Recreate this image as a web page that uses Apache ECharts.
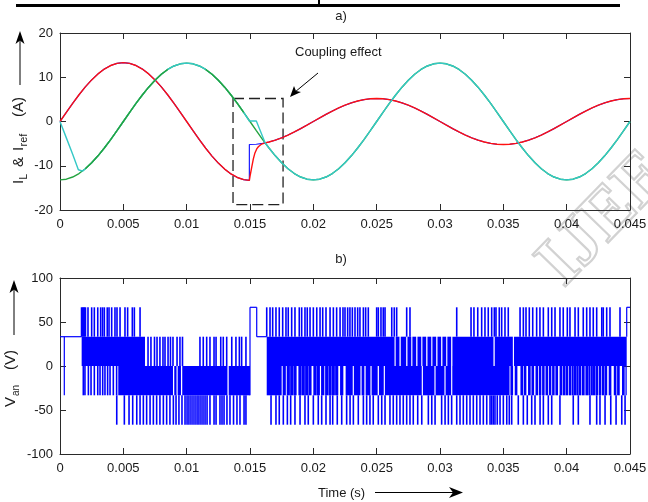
<!DOCTYPE html>
<html>
<head>
<meta charset="utf-8">
<script src="https://cdn.jsdelivr.net/npm/echarts@6/dist/echarts.min.js"></script>
<style>
  html, body { margin: 0; padding: 0; background: #fff; }
  #c { width: 648px; height: 502px; }
</style>
</head>
<body>
<div id="c"></div>
<script>
// ---------- axes ----------
const timeTicks = [0, 0.005, 0.01, 0.015, 0.02, 0.025, 0.03, 0.035, 0.04, 0.045];
const currentTicks = [-20, -10, 0, 10, 20];
const voltageTicks = [-100, -50, 0, 50, 100];

// ---------- a) phase currents, [time (s), current (A)] ----------
// phase a reference current (blue)
const iaRef = [
  [0,0],[0.0005,2.08],[0.001,4.11],[0.0015,6.04],[0.002,7.82],[0.0025,9.40],[0.003,10.76],[0.0035,11.85],
  [0.004,12.65],[0.0045,13.14],[0.005,13.30],[0.0055,13.14],[0.006,12.65],[0.0065,11.85],[0.007,10.76],
  [0.0075,9.40],[0.008,7.82],[0.0085,6.04],[0.009,4.11],[0.0095,2.08],[0.01,0],[0.0105,-2.08],[0.011,-4.11],
  [0.0115,-6.04],[0.012,-7.82],[0.0125,-9.40],[0.013,-10.76],[0.0135,-11.85],[0.014,-12.65],[0.0145,-13.14],
  [0.01495,-13.30],[0.01495,-5.20],[0.0155,-5.14],[0.016,-4.95],[0.0165,-4.63],[0.017,-4.21],[0.0175,-3.68],
  [0.018,-3.06],[0.0185,-2.36],[0.019,-1.61],[0.0195,-0.81],[0.02,0],[0.0205,0.81],[0.021,1.61],[0.0215,2.36],
  [0.022,3.06],[0.0225,3.68],[0.023,4.21],[0.0235,4.63],[0.024,4.95],[0.0245,5.14],[0.025,5.20],[0.0255,5.14],
  [0.026,4.95],[0.0265,4.63],[0.027,4.21],[0.0275,3.68],[0.028,3.06],[0.0285,2.36],[0.029,1.61],[0.0295,0.81],
  [0.03,0],[0.0305,-0.81],[0.031,-1.61],[0.0315,-2.36],[0.032,-3.06],[0.0325,-3.68],[0.033,-4.21],[0.0335,-4.63],
  [0.034,-4.95],[0.0345,-5.14],[0.035,-5.20],[0.0355,-5.14],[0.036,-4.95],[0.0365,-4.63],[0.037,-4.21],
  [0.0375,-3.68],[0.038,-3.06],[0.0385,-2.36],[0.039,-1.61],[0.0395,-0.81],[0.04,0],[0.0405,0.81],[0.041,1.61],
  [0.0415,2.36],[0.042,3.06],[0.0425,3.68],[0.043,4.21],[0.0435,4.63],[0.044,4.95],[0.0445,5.14],[0.045,5.20]
];
// phase a load current (red)
const iaMeas = [
  [0,0],[0.0005,2.08],[0.001,4.11],[0.0015,6.04],[0.002,7.82],[0.0025,9.40],[0.003,10.76],[0.0035,11.85],
  [0.004,12.65],[0.0045,13.14],[0.005,13.30],[0.0055,13.14],[0.006,12.65],[0.0065,11.85],[0.007,10.76],
  [0.0075,9.40],[0.008,7.82],[0.0085,6.04],[0.009,4.11],[0.0095,2.08],[0.01,0],[0.0105,-2.08],[0.011,-4.11],
  [0.0115,-6.04],[0.012,-7.82],[0.0125,-9.40],[0.013,-10.76],[0.0135,-11.85],[0.014,-12.65],[0.0145,-13.14],
  [0.01495,-13.30],[0.0150,-12.4],[0.01513,-10.4],[0.01526,-8.5],[0.01539,-7.1],[0.01553,-6.2],[0.01566,-5.7],
  [0.01592,-5.1],[0.0162,-4.84],[0.0165,-4.63],[0.017,-4.21],[0.0175,-3.68],
  [0.018,-3.06],[0.0185,-2.36],[0.019,-1.61],[0.0195,-0.81],[0.02,0],[0.0205,0.81],[0.021,1.61],[0.0215,2.36],
  [0.022,3.06],[0.0225,3.68],[0.023,4.21],[0.0235,4.63],[0.024,4.95],[0.0245,5.14],[0.025,5.20],[0.0255,5.14],
  [0.026,4.95],[0.0265,4.63],[0.027,4.21],[0.0275,3.68],[0.028,3.06],[0.0285,2.36],[0.029,1.61],[0.0295,0.81],
  [0.03,0],[0.0305,-0.81],[0.031,-1.61],[0.0315,-2.36],[0.032,-3.06],[0.0325,-3.68],[0.033,-4.21],[0.0335,-4.63],
  [0.034,-4.95],[0.0345,-5.14],[0.035,-5.20],[0.0355,-5.14],[0.036,-4.95],[0.0365,-4.63],[0.037,-4.21],
  [0.0375,-3.68],[0.038,-3.06],[0.0385,-2.36],[0.039,-1.61],[0.0395,-0.81],[0.04,0],[0.0405,0.81],[0.041,1.61],
  [0.0415,2.36],[0.042,3.06],[0.0425,3.68],[0.043,4.21],[0.0435,4.63],[0.044,4.95],[0.0445,5.14],[0.045,5.20]
];
// phase b reference current (green)
const ibRef = [
  [0,-13.20],[0.0005,-13.04],[0.001,-12.55],[0.0015,-11.76],[0.002,-10.68],[0.0025,-9.33],[0.003,-7.76],
  [0.0035,-5.99],[0.004,-4.08],[0.0045,-2.06],[0.005,0],[0.0055,2.06],[0.006,4.08],[0.0065,5.99],[0.007,7.76],
  [0.0075,9.33],[0.008,10.68],[0.0085,11.76],[0.009,12.55],[0.0095,13.04],[0.01,13.20],[0.0105,13.04],
  [0.011,12.55],[0.0115,11.76],[0.012,10.68],[0.0125,9.33],[0.013,7.76],[0.0135,5.99],[0.014,4.08],
  [0.0145,2.06],[0.015,0],[0.0155,-2.06],[0.016,-4.08],[0.0165,-5.99],[0.017,-7.76],[0.0175,-9.33],
  [0.018,-10.68],[0.0185,-11.76],[0.019,-12.55],[0.0195,-13.04],[0.02,-13.20],[0.0205,-13.04],[0.021,-12.55],
  [0.0215,-11.76],[0.022,-10.68],[0.0225,-9.33],[0.023,-7.76],[0.0235,-5.99],[0.024,-4.08],[0.0245,-2.06],
  [0.025,0],[0.0255,2.06],[0.026,4.08],[0.0265,5.99],[0.027,7.76],[0.0275,9.33],[0.028,10.68],[0.0285,11.76],
  [0.029,12.55],[0.0295,13.04],[0.03,13.20],[0.0305,13.04],[0.031,12.55],[0.0315,11.76],[0.032,10.68],
  [0.0325,9.33],[0.033,7.76],[0.0335,5.99],[0.034,4.08],[0.0345,2.06],[0.035,0],[0.0355,-2.06],[0.036,-4.08],
  [0.0365,-5.99],[0.037,-7.76],[0.0375,-9.33],[0.038,-10.68],[0.0385,-11.76],[0.039,-12.55],[0.0395,-13.04],
  [0.04,-13.20],[0.0405,-13.04],[0.041,-12.55],[0.0415,-11.76],[0.042,-10.68],[0.0425,-9.33],[0.043,-7.76],
  [0.0435,-5.99],[0.044,-4.08],[0.0445,-2.06],[0.045,0]
];
// phase b load current (cyan)
const ibMeas = [
  [0,0],[0.0005,-3.7],[0.001,-7.4],[0.00145,-10.9],[0.0018,-11.2],[0.002,-10.68],[0.0025,-9.33],[0.003,-7.76],
  [0.0035,-5.99],[0.004,-4.08],[0.0045,-2.06],[0.005,0],[0.0055,2.06],[0.006,4.08],[0.0065,5.99],[0.007,7.76],
  [0.0075,9.33],[0.008,10.68],[0.0085,11.76],[0.009,12.55],[0.0095,13.04],[0.01,13.20],[0.0105,13.04],
  [0.011,12.55],[0.0115,11.76],[0.012,10.68],[0.0125,9.33],[0.013,7.76],[0.0135,5.99],[0.014,4.08],
  [0.0145,2.06],[0.01495,0.1],[0.0155,0.1],[0.0162,-4.86],[0.0165,-5.99],[0.017,-7.76],[0.0175,-9.33],
  [0.018,-10.68],[0.0185,-11.76],[0.019,-12.55],[0.0195,-13.04],[0.02,-13.20],[0.0205,-13.04],[0.021,-12.55],
  [0.0215,-11.76],[0.022,-10.68],[0.0225,-9.33],[0.023,-7.76],[0.0235,-5.99],[0.024,-4.08],[0.0245,-2.06],
  [0.025,0],[0.0255,2.06],[0.026,4.08],[0.0265,5.99],[0.027,7.76],[0.0275,9.33],[0.028,10.68],[0.0285,11.76],
  [0.029,12.55],[0.0295,13.04],[0.03,13.20],[0.0305,13.04],[0.031,12.55],[0.0315,11.76],[0.032,10.68],
  [0.0325,9.33],[0.033,7.76],[0.0335,5.99],[0.034,4.08],[0.0345,2.06],[0.035,0],[0.0355,-2.06],[0.036,-4.08],
  [0.0365,-5.99],[0.037,-7.76],[0.0375,-9.33],[0.038,-10.68],[0.0385,-11.76],[0.039,-12.55],[0.0395,-13.04],
  [0.04,-13.20],[0.0405,-13.04],[0.041,-12.55],[0.0415,-11.76],[0.042,-10.68],[0.0425,-9.33],[0.043,-7.76],
  [0.0435,-5.99],[0.044,-4.08],[0.0445,-2.06],[0.045,0]
];
// region marked "Coupling effect": [t0, t1, iLow, iHigh]
const couplingBox = [0.01366, 0.01761, -18.8, 5.2];

// ---------- b) phase voltage V_an ----------
const vanLevels = [-66.7, -33.3, 0, 33.3, 66.7];
// dense switching between 0 and +33.3 V: [t0, t1]
const upperBand = [
  [0.00171,0.00671],
  [0.01632,0.02641],[0.02650,0.02680],[0.02690,0.02733],[0.02743,0.02773],[0.02782,0.02812],[0.02822,0.02852],
  [0.02861,0.02891],[0.02901,0.02931],[0.02940,0.02970],[0.02980,0.03009],[0.03019,0.03049],[0.03058,0.03088],
  [0.03098,0.03422],[0.03432,0.03575],[0.03584,0.04474]
];
// dense switching between -33.3 V and 0: [t0, t1]
const lowerBand = [
  [0.00460,0.00892],[0.00902,0.00920],[0.00929,0.00955],[0.00965,0.01322],[0.01332,0.01500],
  [0.01632,0.01750],[0.01758,0.01783],[0.01790,0.01815],[0.01817,0.01842],[0.01843,0.01868],[0.01882,0.01907],
  [0.01908,0.01933],[0.01935,0.01960],[0.01961,0.01986],[0.02000,0.02026],[0.02027,0.02052],[0.02061,0.02087],
  [0.02093,0.02118],[0.02119,0.02144],[0.02145,0.02170],[0.02172,0.02197],[0.02211,0.02237],[0.02255,0.02311],
  [0.02320,0.02372],[0.02381,0.02403],[0.02413,0.02451],[0.02460,0.02508],[0.02518,0.02556],[0.02565,0.02856],
  [0.02865,0.02956],[0.02965,0.03035],[0.03044,0.03088],[0.03097,0.03549],
  [0.03556,0.03577],[0.03590,0.03611],[0.03635,0.03656],[0.03661,0.03682],[0.03695,0.03716],[0.03722,0.03743],
  [0.03754,0.03774],[0.03780,0.03800],[0.03806,0.03826],[0.03833,0.03853],[0.03859,0.03879],[0.03885,0.03905],
  [0.03911,0.03932],[0.03944,0.03965],[0.03969,0.03990],[0.03992,0.04011],[0.04016,0.04037],[0.04040,0.04056],
  [0.04058,0.04075],[0.04076,0.04094],[0.04095,0.04116],[0.04121,0.04142],[0.04148,0.04169],[0.04171,0.04188],
  [0.04190,0.04207],[0.04208,0.04226],[0.04228,0.04248],[0.04253,0.04274],[0.04279,0.04299],[0.04301,0.04320],
  [0.04332,0.04353],[0.04372,0.04393],[0.04398,0.04419],[0.04437,0.04458],[0.04464,0.04474]
];
// pulses from +33.3 V up to +66.7 V
const pulsesTo66 = [
  0.00170,0.00178,0.00186,0.00193,0.00201,0.00221,0.00250,0.00271,0.00298,0.00321,0.00336,0.00350,0.00373,
  0.00387,0.00408,0.00434,0.00450,0.00474,0.00513,0.00534,0.00571,0.00587,0.00632,
  0.01632,0.01658,0.01679,0.01705,0.01731,0.01758,0.01784,0.01802,0.01829,0.01855,0.01889,0.01908,0.01934,
  0.01952,0.01974,0.02000,0.02027,0.02053,0.02074,0.02100,0.02132,0.02158,0.02184,0.02211,0.02234,0.02250,
  0.02271,0.02289,0.02308,0.02329,0.02350,0.02368,0.02395,0.02413,0.02434,0.02500,0.02513,0.02534,0.02552,
  0.02566,0.02619,0.02639,0.02658,0.02737,0.02763,0.03132,0.03245,0.03268,0.03298,0.03329,0.03355,0.03381,
  0.03408,0.03429,0.03442,0.03468,0.03487,0.03513,0.03539,0.03632,0.03658,0.03679,0.03705,0.03732,0.03763,
  0.03789,0.03816,0.03855,0.03882,0.03908,0.03947,0.03973,0.04005,0.04026,0.04066,0.04092,0.04131,0.04158,
  0.04184,0.04210,0.04237,0.04277,0.04289,0.04316,0.04342,0.04421
];
// pulses from -33.3 V down to -66.7 V
const pulsesToMinus66 = [
  0.00448,0.00508,0.00545,0.00574,0.00606,0.00632,0.00658,0.00684,0.00711,0.00737,0.00763,0.00789,0.00816,
  0.00842,0.00868,0.00895,0.00916,0.00939,0.00963,0.00987,0.01003,0.01018,0.01034,0.01050,0.01066,0.01082,
  0.01097,0.01113,0.01129,0.01145,0.01161,0.01184,0.01216,0.01232,0.01263,0.01279,0.01295,0.01318,0.01342,
  0.01370,0.01397,0.01421,0.01453,0.01468,
  0.01666,0.01705,0.01731,0.01763,0.01795,0.01821,0.01855,0.01895,0.01934,0.01960,0.02000,0.02039,0.02066,
  0.02100,0.02132,0.02153,0.02189,0.02224,0.02263,0.02290,0.02316,0.02355,0.02395,0.02421,0.02447,0.02473,
  0.02513,0.02540,0.02566,0.02605,0.02631,0.02658,0.02684,0.02710,0.02737,0.02763,0.02789,0.02824,0.02856,
  0.02908,0.02935,0.02961,0.03013,0.03040,0.03066,0.03092,0.03132,0.03158,0.03184,0.03211,0.03237,0.03263,
  0.03290,0.03316,0.03342,0.03369,0.03395,0.03408,0.03421,0.03434,0.03452,0.03474,0.03500,0.03527,0.03547,
  0.03566,0.03618,0.03658,0.03689,0.03724,0.03750,0.03790,0.03816,0.03855,0.03882,0.03947,0.04052,0.04092,
  0.04184,0.04237,0.04263,0.04303,0.04348,0.04390,0.04435,0.04461
];
// pulses from 0 down to -33.3 V
const pulsesToMinus33 = [
  0.00184,0.00197,0.00224,0.00245,0.00271,0.00298,0.00316,0.00337,0.00355,0.00376,0.00395,0.00421,0.00447
];
// pulses from 0 up to +33.3 V
const pulsesTo33 = [
  0.00695,0.00718,0.00746,0.00766,0.00789,0.00813,0.00829,0.00853,0.00872,0.00892,0.00924,0.00947,0.00967,
  0.01105,0.01131,0.01158,0.01184,0.01216,0.01232,0.01269,0.01289,0.01316,0.01356,0.01389,0.01416,0.01434,
  0.01468
];
// steady parts of the trace: [t0, v0, t1, v1]
const vanSteps = [
  [0, 33.3, 0.00171, 33.3], [0.00034, 33.3, 0.00034, -33.3],
  [0.0150, -33.3, 0.0150, 66.7], [0.0150, 66.7, 0.01553, 66.7], [0.01553, 66.7, 0.01553, 33.3],
  [0.01553, 33.3, 0.01632, 33.3],
  [0.04474, 33.3, 0.04474, 66.7], [0.04474, 66.7, 0.045, 66.7]
];

// ---------- build ----------
const [L2n, L1n, L0, L1p, L2p] = vanLevels;
const bandData = upperBand.map(s => [s[0], s[1], L0, L1p])
  .concat(lowerBand.map(s => [s[0], s[1], L1n, L0]));
const stepData = vanSteps;
const pulseData = []
  .concat(pulsesTo66.map(t => [t, L1p, t, L2p]))
  .concat(pulsesToMinus66.map(t => [t, L1n, t, L2n]))
  .concat(pulsesToMinus33.map(t => [t, L0, t, L1n]))
  .concat(pulsesTo33.map(t => [t, L0, t, L1p]));

const FONT = 'Liberation Sans, Arial, sans-serif';
const AX = '#2a2a2a';
const VBLUE = '#0000ff';
const fmtTime = v => String(Math.round(v * 1000) / 1000);

function xAxes(grid, ticks) {
  const base = {
    gridIndex: grid, type: 'value', min: ticks[0], max: ticks[ticks.length - 1],
    interval: ticks[1] - ticks[0],
    axisLine: { show: true, onZero: false, lineStyle: { color: AX, width: 1 } },
    axisTick: { show: true, inside: true, length: 6, lineStyle: { color: AX } },
    splitLine: { show: false }
  };
  return [
    Object.assign({}, base, { position: 'bottom',
      axisLabel: { show: true, margin: 8, color: '#1a1a1a', fontSize: 13, fontFamily: FONT, formatter: fmtTime } }),
    Object.assign({}, base, { position: 'top', axisLabel: { show: false } })
  ];
}
function yAxes(grid, ticks) {
  const base = {
    gridIndex: grid, type: 'value', min: ticks[0], max: ticks[ticks.length - 1],
    interval: ticks[1] - ticks[0],
    axisLine: { show: true, onZero: false, lineStyle: { color: AX, width: 1 } },
    axisTick: { show: true, inside: true, length: 6, lineStyle: { color: AX } },
    splitLine: { show: false }
  };
  return [
    Object.assign({}, base, { position: 'left',
      axisLabel: { show: true, margin: 7, color: '#1a1a1a', fontSize: 13, fontFamily: FONT } }),
    Object.assign({}, base, { position: 'right', axisLabel: { show: false } })
  ];
}

function curve(data, color, z, width, extra) {
  return Object.assign({
    type: 'line', xAxisIndex: 0, yAxisIndex: 0, data: data, showSymbol: false, symbol: 'none',
    lineStyle: { color: color, width: width }, z: z, silent: true, animation: false
  }, extra || {});
}

// reference phase-b current shows above the measured one on these stretches
const greenOnTop = [[0.0018, 0.0085], [0.0115, 0.0148]];

function segmentSeries(data, width, z) {
  return {
    type: 'custom', xAxisIndex: 2, yAxisIndex: 2, data: data, silent: true, z: z, clip: true,
    encode: { x: [0, 2], y: [1, 3] },
    renderItem: function (params, api) {
      const a = api.coord([api.value(0), api.value(1)]);
      const b = api.coord([api.value(2), api.value(3)]);
      return { type: 'line', shape: { x1: a[0], y1: a[1], x2: b[0], y2: b[1] },
        style: { stroke: VBLUE, lineWidth: width } };
    }
  };
}

function text(x, y, str, size, align, vAlign, extra) {
  return Object.assign({
    type: 'text', x: x, y: y, silent: true,
    style: { text: str, fill: '#1a1a1a', font: size + 'px ' + FONT,
      align: align, verticalAlign: vAlign, textAlign: align, textVerticalAlign: vAlign }
  }, extra || {});
}
function arrowHead(points) {
  return { type: 'polygon', silent: true, shape: { points: points }, style: { fill: '#000' } };
}

const option = {
  animation: false,
  backgroundColor: '#ffffff',
  grid: [
    { left: 60, top: 33, width: 570, height: 177, outerBoundsMode: 'none' },
    { left: 60, top: 278, width: 570, height: 176, outerBoundsMode: 'none' }
  ],
  xAxis: xAxes(0, timeTicks).concat(xAxes(1, timeTicks)),
  yAxis: yAxes(0, currentTicks).concat(yAxes(1, voltageTicks)),
  series: [
    curve(ibRef, '#23a33f', 2, 1.4),
    curve(iaRef, '#1a1aff', 3, 1.2),
    curve(iaMeas, '#ff1010', 4, 1.4, {
      markArea: {
        silent: true,
        itemStyle: { color: 'rgba(0,0,0,0)', borderColor: '#222', borderWidth: 1.3, borderType: [11, 5] },
        data: [[{ coord: [couplingBox[0], couplingBox[3]] }, { coord: [couplingBox[1], couplingBox[2]] }]]
      }
    }),
    curve(ibMeas, '#34c8c6', 5, 1.4)
  ].concat(greenOnTop.map(s => curve(ibRef.filter(p => p[0] >= s[0] && p[0] <= s[1]), '#23a33f', 6, 1.4)))
   .concat([
    {
      type: 'custom', xAxisIndex: 2, yAxisIndex: 2, data: bandData, silent: true, z: 3, clip: true,
      encode: { x: [0, 1], y: [2, 3] },
      renderItem: function (params, api) {
        const p0 = api.coord([api.value(0), api.value(3)]);
        const p1 = api.coord([api.value(1), api.value(2)]);
        return { type: 'rect', shape: { x: p0[0], y: p0[1], width: Math.max(p1[0] - p0[0], 0.8), height: p1[1] - p0[1] },
          style: { fill: VBLUE } };
      }
    },
    segmentSeries(stepData, 1.2, 4),
    segmentSeries(pulseData, 1.6, 4)
  ]),
  graphic: [
    // watermark
    { type: 'text', x: 576, y: 300, rotation: 0.8, silent: true, z: -10,
      style: { text: 'IJEE', font: 'bold 70px Liberation Serif, serif', fill: 'rgba(255,255,255,0)',
        stroke: '#d2d2d2', lineWidth: 2.2, align: 'left', verticalAlign: 'bottom',
        textAlign: 'left', textVerticalAlign: 'bottom' } },
    // rule and tick at the top edge of the page
    { type: 'rect', silent: true, shape: { x: 16, y: 4, width: 604, height: 3 }, style: { fill: '#000' } },
    { type: 'rect', silent: true, shape: { x: 318, y: 0, width: 2, height: 5 }, style: { fill: '#000' } },
    // panel captions
    text(341, 16, 'a)', 13, 'center', 'middle'),
    text(341, 259, 'b)', 13, 'center', 'middle'),
    // annotation
    text(295, 52, 'Coupling effect', 13, 'left', 'middle'),
    { type: 'line', silent: true, shape: { x1: 318, y1: 73, x2: 295, y2: 92 }, style: { stroke: '#000', lineWidth: 1 } },
    arrowHead([[290, 97], [294, 86], [296, 91], [301, 92]]),
    // y label, panel a
    { type: 'group', x: 19, y: 184, rotation: Math.PI / 2, children: [
      text(0, 0, 'I', 15, 'left', 'middle'),
      text(4.5, 5, 'L', 10, 'left', 'middle'),
      text(17, 0, '&', 15, 'left', 'middle'),
      text(33, 0, 'I', 15, 'left', 'middle'),
      text(37.5, 5, 'ref', 11, 'left', 'middle'),
      text(67, 0, '(A)', 15, 'left', 'middle')
    ] },
    { type: 'line', silent: true, shape: { x1: 20, y1: 85, x2: 20, y2: 40 }, style: { stroke: '#000', lineWidth: 1 } },
    arrowHead([[20, 31], [15.5, 44], [20, 40.5], [24.5, 44]]),
    // y label, panel b
    { type: 'group', x: 11, y: 407, rotation: Math.PI / 2, children: [
      text(0, 0, 'V', 15, 'left', 'middle'),
      text(11, 5, 'an', 10, 'left', 'middle'),
      text(37, 0, '(V)', 15, 'left', 'middle')
    ] },
    { type: 'line', silent: true, shape: { x1: 14, y1: 335, x2: 14, y2: 289 }, style: { stroke: '#000', lineWidth: 1 } },
    arrowHead([[14, 280], [9.5, 293], [14, 289.5], [18.5, 293]]),
    // x label
    text(318, 493, 'Time (s)', 13, 'left', 'middle'),
    { type: 'line', silent: true, shape: { x1: 375, y1: 492.5, x2: 453, y2: 492.5 }, style: { stroke: '#000', lineWidth: 1 } },
    arrowHead([[463, 492.5], [449, 487], [453, 492.5], [449, 498]])
  ]
};

const chart = echarts.init(document.getElementById('c'), null, { renderer: 'canvas' });
chart.setOption(option);
</script>
</body>
</html>
